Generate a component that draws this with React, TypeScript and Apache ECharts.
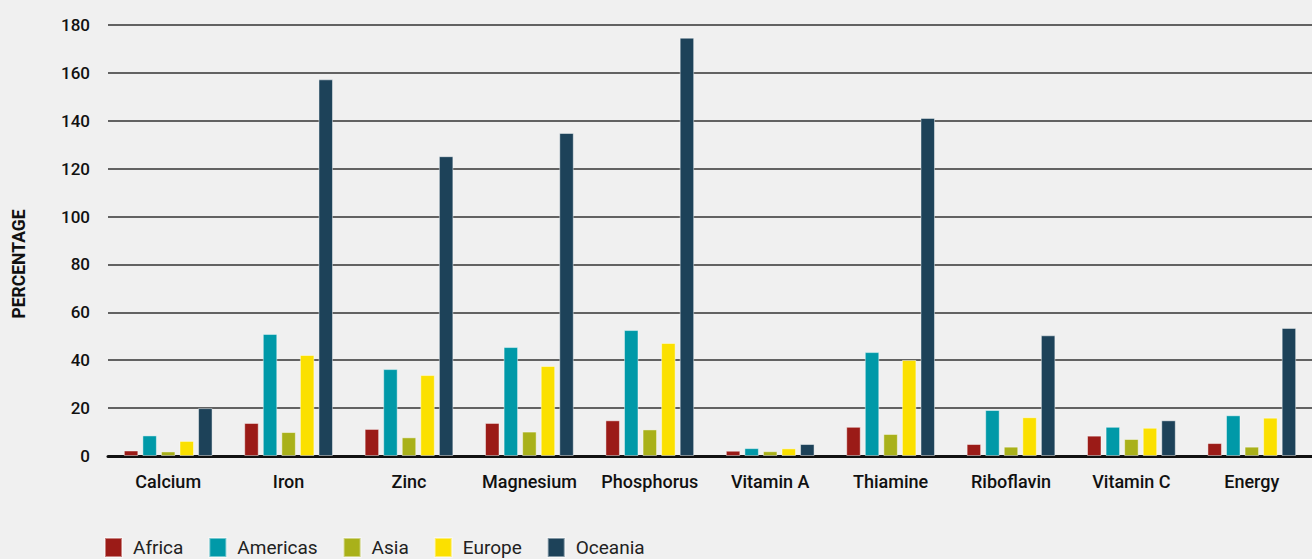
import React, { useEffect, useRef } from "react";
import * as echarts from "echarts";

const categories = ["Calcium", "Iron", "Zinc", "Magnesium", "Phosphorus", "Vitamin A", "Thiamine", "Riboflavin", "Vitamin C", "Energy"];
const africa = [2.3, 13.8, 11.3, 13.8, 14.9, 2.2, 12.2, 5.0, 8.5, 5.4];
const americas = [8.6, 51.0, 36.3, 45.5, 52.6, 3.3, 43.4, 19.2, 12.2, 17.0];
const asia = [1.9, 10.0, 7.8, 10.2, 11.1, 2.0, 9.2, 3.9, 7.1, 3.9];
const europe = [6.3, 42.2, 33.8, 37.6, 47.2, 3.2, 40.1, 16.2, 11.8, 16.0];
const oceania = [20.0, 157.3, 125.2, 134.9, 174.7, 5.0, 141.2, 50.4, 14.9, 53.5];

const seriesNames = ["Africa", "Americas", "Asia", "Europe", "Oceania"];
const seriesData = [africa, americas, asia, europe, oceania];
const colors = ["#9b1b17", "#0099a8", "#a9b11a", "#fbe000", "#1d4259"];

export default function App() {
  const ref = useRef<HTMLDivElement>(null);
  useEffect(() => {
    if (!ref.current) return;
    const chart = echarts.init(ref.current, null, { renderer: "svg" });
    const font = "Roboto, 'Noto Sans', sans-serif";
    chart.setOption({
      animation: false,
      backgroundColor: "#f0f0f0",
      textStyle: { fontFamily: font },
      grid: { left: 108, right: -6, top: 25, bottom: 103, containLabel: false },
      legend: {
        left: 99,
        top: 532,
        itemWidth: 17,
        itemHeight: 19,
        itemGap: 25,
        icon: "rect",
        textStyle: { fontSize: 19, color: "#222", fontFamily: font, padding: [0, 0, 0, 6] },
        data: seriesNames,
      },
      graphic: [
        {
          type: "text",
          x: 19,
          y: 264,
          rotation: Math.PI / 2,
          style: {
            text: "PERCENTAGE",
            fontSize: 17.5,
            fontWeight: "bold",
            fill: "#111",
            fontFamily: font,
            align: "center",
            verticalAlign: "middle",
          },
        },
      ],
      xAxis: {
        type: "category",
        data: categories,
        axisLine: { show: true, lineStyle: { color: "#111", width: 3 } },
        axisTick: { show: false },
        axisLabel: { interval: 0, fontSize: 18, fontWeight: 500, color: "#111", margin: 16, fontFamily: font },
      },
      yAxis: {
        type: "value",
        min: 0,
        max: 180,
        interval: 20,
        axisLine: { show: false },
        axisTick: { show: false },
        axisLabel: { fontSize: 17, fontWeight: 500, color: "#111", margin: 18, fontFamily: font },
        splitLine: { show: true, lineStyle: { color: "#333", width: 1.5 } },
      },
      series: seriesNames.map((name, i) => ({
        name,
        type: "bar",
        data: seriesData[i],
        barWidth: 14.5,
        barGap: "28%",
        itemStyle: { color: colors[i], borderColor: "rgba(255,255,255,0.45)", borderWidth: 1 },
      })),
    });
    return () => chart.dispose();
  }, []);
  return (
    <div
      ref={ref}
      style={{ position: "fixed", left: 0, top: 0, width: 1312, height: 559, background: "#f0f0f0" }}
    />
  );
}
